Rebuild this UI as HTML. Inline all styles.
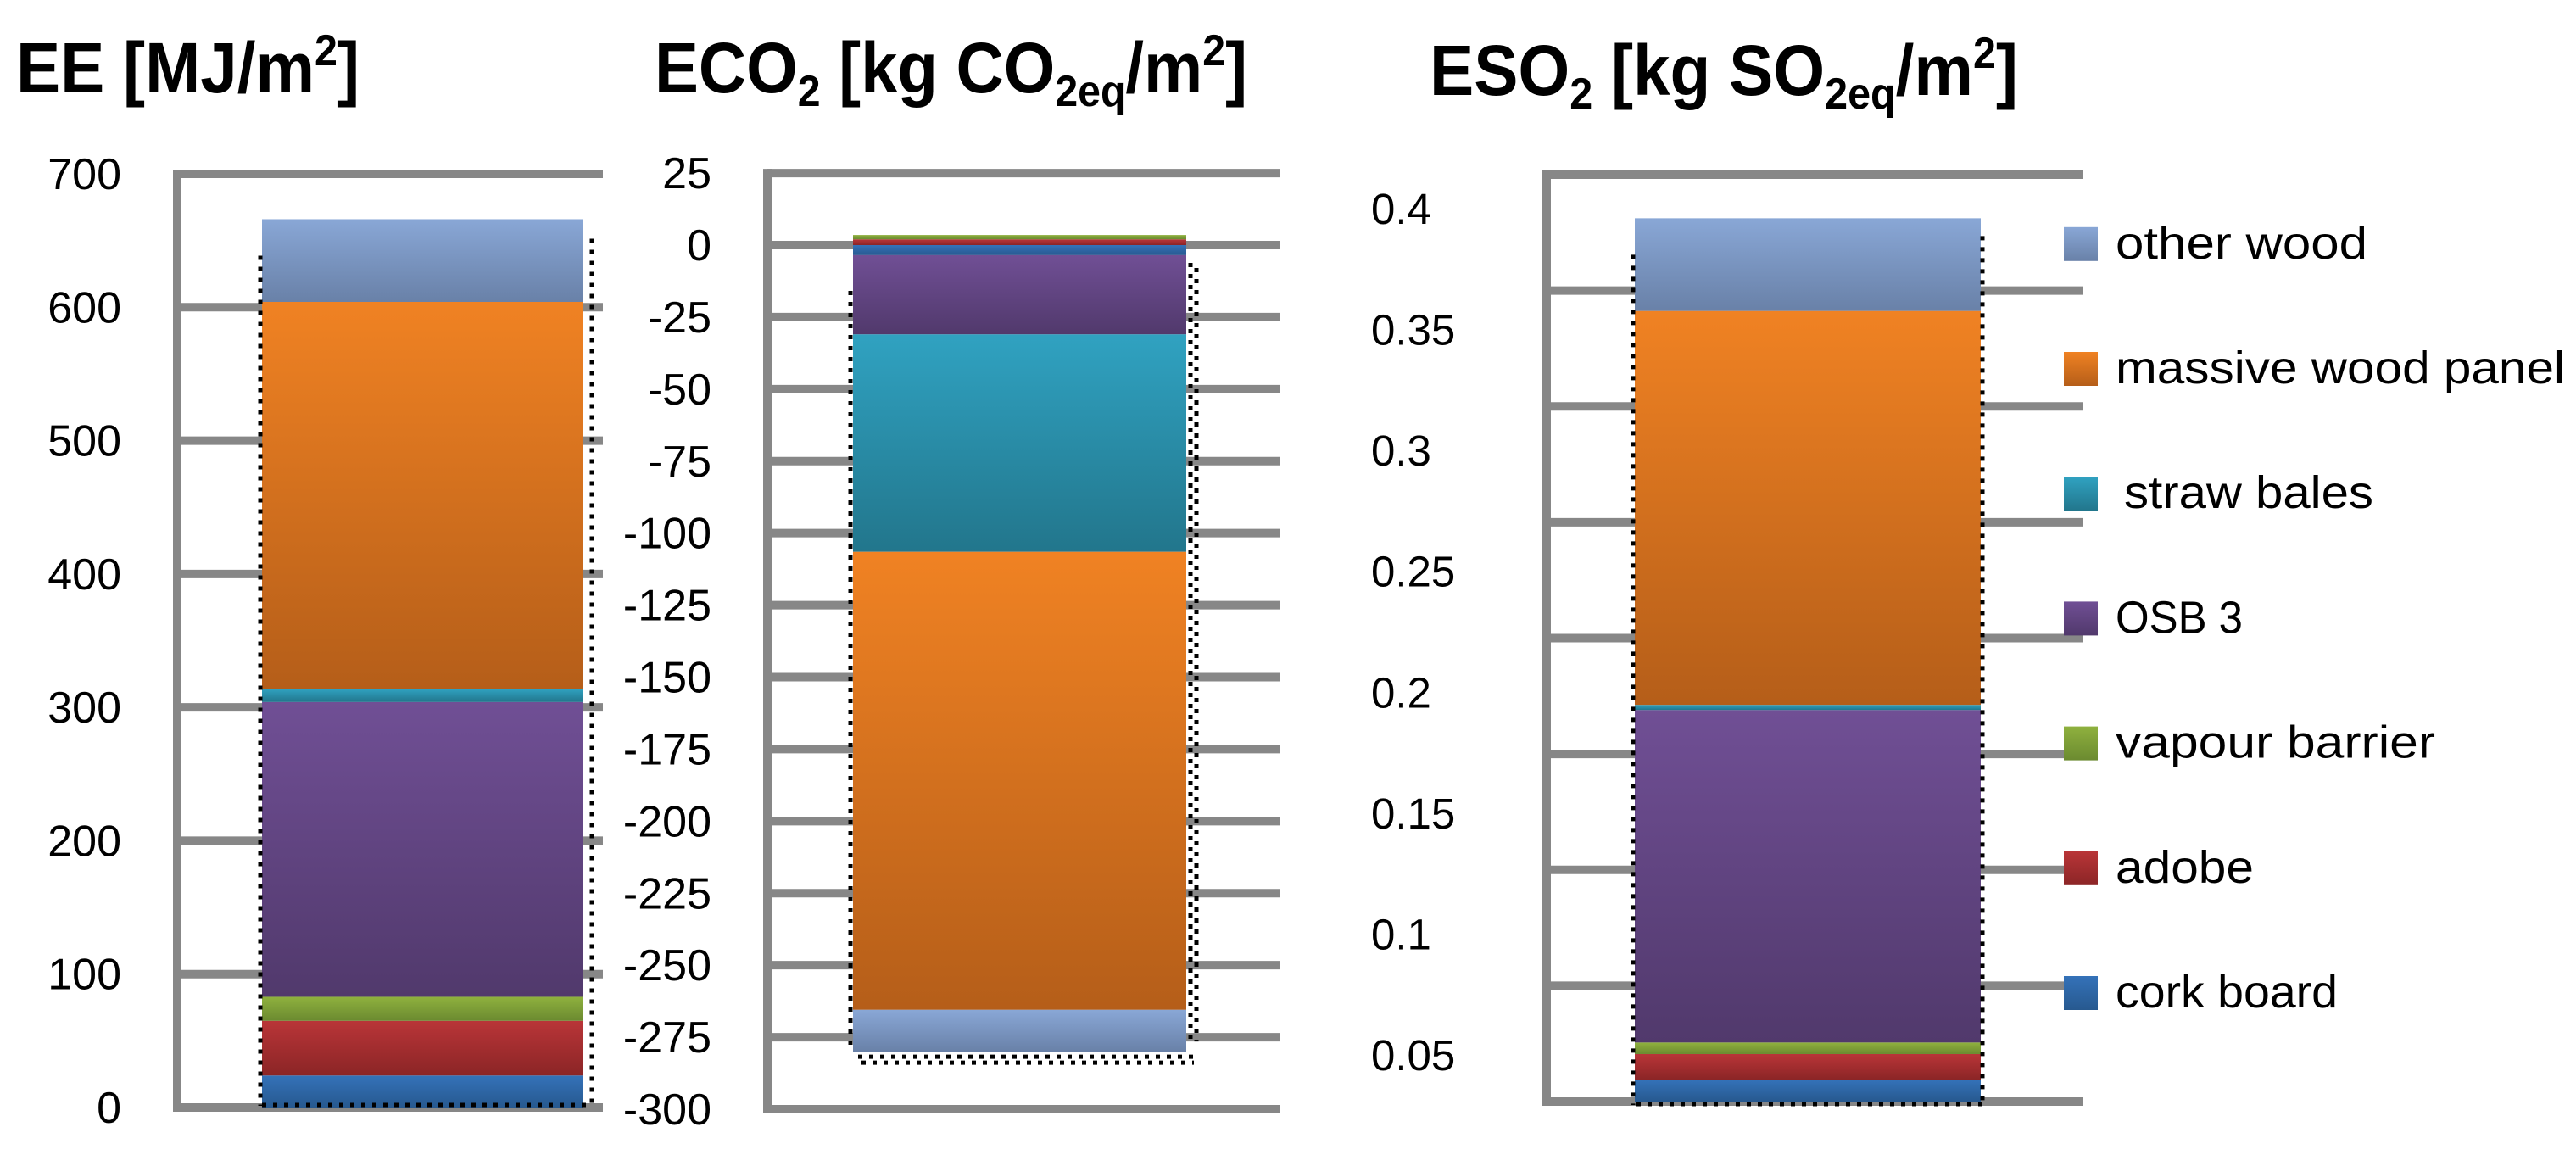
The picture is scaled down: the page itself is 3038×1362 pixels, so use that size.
<!DOCTYPE html>
<html><head><meta charset="utf-8"><style>
html,body{margin:0;padding:0;background:#fff;}
svg{display:block;font-family:"Liberation Sans",sans-serif;}
</style></head><body>
<svg id="c" width="3038" height="1362" viewBox="0 0 3038 1362" xmlns="http://www.w3.org/2000/svg">
<defs>
<linearGradient id="g-other" x1="0" y1="0" x2="0" y2="1"><stop offset="0" stop-color="#89a7d6"/><stop offset="1" stop-color="#6981a8"/></linearGradient>
<linearGradient id="g-massive" x1="0" y1="0" x2="0" y2="1"><stop offset="0" stop-color="#f08223"/><stop offset="1" stop-color="#b55e19"/></linearGradient>
<linearGradient id="g-straw" x1="0" y1="0" x2="0" y2="1"><stop offset="0" stop-color="#30a2c1"/><stop offset="1" stop-color="#22768c"/></linearGradient>
<linearGradient id="g-osb" x1="0" y1="0" x2="0" y2="1"><stop offset="0" stop-color="#704f95"/><stop offset="1" stop-color="#51396c"/></linearGradient>
<linearGradient id="g-vapour" x1="0" y1="0" x2="0" y2="1"><stop offset="0" stop-color="#8fb13e"/><stop offset="1" stop-color="#6b8a30"/></linearGradient>
<linearGradient id="g-adobe" x1="0" y1="0" x2="0" y2="1"><stop offset="0" stop-color="#b93538"/><stop offset="1" stop-color="#8b2526"/></linearGradient>
<linearGradient id="g-cork" x1="0" y1="0" x2="0" y2="1"><stop offset="0" stop-color="#3472b9"/><stop offset="1" stop-color="#27598f"/></linearGradient>
</defs>
<g id="titles" font-weight="bold" font-size="84" fill="#000">
<text x="19" y="109" textLength="405" lengthAdjust="spacingAndGlyphs">EE [MJ/m<tspan dy="-32" font-size="52">2</tspan><tspan dy="32">]</tspan></text>
<text x="772" y="109" textLength="699" lengthAdjust="spacingAndGlyphs">ECO<tspan dy="16" font-size="52">2</tspan><tspan dy="-16"> [kg CO</tspan><tspan dy="16" font-size="52">2eq</tspan><tspan dy="-16">/m</tspan><tspan dy="-32" font-size="52">2</tspan><tspan dy="32">]</tspan></text>
<text x="1686" y="112" textLength="694" lengthAdjust="spacingAndGlyphs">ESO<tspan dy="16" font-size="52">2</tspan><tspan dy="-16"> [kg SO</tspan><tspan dy="16" font-size="52">2eq</tspan><tspan dy="-16">/m</tspan><tspan dy="-32" font-size="52">2</tspan><tspan dy="32">]</tspan></text>
</g>
</svg>
<script>
// shared categories (bottom to top)
const categories = ["cork board","adobe","vapour barrier","OSB 3","straw bales","massive wood panel","other wood"];
const gradIds = ["g-cork","g-adobe","g-vapour","g-osb","g-straw","g-massive","g-other"];
// EE values [MJ/m2]
const eeValues = [24, 41, 18, 221, 10, 290, 62];
const eeTicks = [0,100,200,300,400,500,600,700];
// ECO2 values [kg CO2eq/m2]
const eco2Values = [-3.5, 2, 1.5, -27.5, -75.5, -159, -14.5];
const eco2Ticks = [25,0,-25,-50,-75,-100,-125,-150,-175,-200,-225,-250,-275,-300];
// ESO2 values [kg SO2eq/m2]
const eso2Values = [0.0095, 0.011, 0.005, 0.1435, 0.0022, 0.170, 0.040];
const eso2Grid = [0,0.05,0.1,0.15,0.2,0.25,0.3,0.35,0.4];
const eso2TickLabels = ["0.05","0.1","0.15","0.2","0.25","0.3","0.35","0.4"];

const NS="http://www.w3.org/2000/svg";
const svg=document.getElementById('c');
function mk(tag,attrs,parent){const e=document.createElementNS(NS,tag);for(const k in attrs)e.setAttribute(k,attrs[k]);(parent||svg).appendChild(e);return e;}
const GRID="#878787";

// axis functions
const yEE=v=>1306-(v-0)*(1101/700);
const yECO=v=>289-v*(1019/300);
const yESO=v=>1299-v*(1093/0.4);
const yESOlabel=v=>1244-(v-0.05)*(998/0.35);

function stackBars(vals,yf,x0,x1,name){
  let pos=0,neg=0;
  const g=mk('g',{});
  
  
  vals.forEach((v,i)=>{
    let a,b;
    if(v>=0){a=pos;b=pos+v;pos=b;}else{a=neg;b=neg+v;neg=b;}
    const yt=Math.min(yf(a),yf(b)),yb=Math.max(yf(a),yf(b));
    const r=mk('rect',{x:x0,y:yt,width:x1-x0,height:Math.max(0,yb-yt),fill:'url(#'+gradIds[i]+')'},g);
    
    
  });
  return {top:yf(pos),bottom:yf(neg)};
}
function dotted(x1,y1,x2,y2,name){
  const l=mk('line',{x1:x1,y1:y1,x2:x2,y2:y2,stroke:'#000','stroke-width':5,'stroke-dasharray':'5 8'});
  
  
}

// ---- EE panel ----
const ee=mk('g',{});


eeTicks.forEach(t=>{
  const y=yEE(t);
  const l=mk('line',{x1:209,y1:y,x2:711,y2:y,stroke:GRID,'stroke-width':10},ee);
  
  
  const tx=mk('text',{x:143,y:y+18,'text-anchor':'end','font-size':52},ee);
  tx.textContent=t;
  
  
});
const eeAx=mk('line',{x1:209,y1:yEE(700)-5,x2:209,y2:yEE(0)+5,stroke:GRID,'stroke-width':10},ee);


const eeS=stackBars(eeValues,yEE,309,688,'ee');
dotted(307,eeS.top+43,307,1304,'ee-range-left');
dotted(698,eeS.top+23,698,1304,'ee-range-right');
dotted(309,1303,698,1303,'ee-range-bottom');

// ---- ECO2 panel ----
eco2Ticks.forEach(t=>{
  const y=yECO(t);
  const l=mk('line',{x1:905,y1:y,x2:1509,y2:y,stroke:GRID,'stroke-width':10});
  
  
  const tx=mk('text',{x:839,y:y+18,'text-anchor':'end','font-size':52});
  tx.textContent=t;
  
  
});
const ecoAx=mk('line',{x1:905,y1:yECO(25)-5,x2:905,y2:yECO(-300)+5,stroke:GRID,'stroke-width':10});


const ecoS=stackBars(eco2Values,yECO,1006,1399,'eco2');
dotted(1003,343,1003,ecoS.bottom-4,'eco2-range-left');
dotted(1404,310,1404,ecoS.bottom-12,'eco2-range-right');
dotted(1411,316,1411,ecoS.bottom-12,'eco2-range-right-2');
dotted(1012,ecoS.bottom+6,1408,ecoS.bottom+6,'eco2-range-bottom');
dotted(1016,ecoS.bottom+13,1408,ecoS.bottom+13,'eco2-range-bottom-2');

// ---- ESO2 panel ----
eso2Grid.forEach(t=>{
  const y=yESO(t);
  const l=mk('line',{x1:1824,y1:y,x2:2456,y2:y,stroke:GRID,'stroke-width':10});
  
  
});
eso2TickLabels.forEach(s=>{
  const tx=mk('text',{x:1617,y:yESOlabel(parseFloat(s))+18,'font-size':51});
  tx.textContent=s;
  
  
});
const esoAx=mk('line',{x1:1824,y1:yESO(0.4)-5,x2:1824,y2:yESO(0)+5,stroke:GRID,'stroke-width':10});


const esoS=stackBars(eso2Values,yESO,1928,2336,'eso2');
dotted(1926,esoS.top+43,1926,1303,'eso2-range-left');
dotted(2338,esoS.top+21,2338,1303,'eso2-range-right');
dotted(1930,1302,2338,1302,'eso2-range-bottom');

// ---- legend ----
const legendLabels=["cork board","adobe","vapour barrier","OSB 3"," straw bales","massive wood panel","other wood"];
const legendWidths=[262,163,377,150,304,530,297];
const lg=mk('g',{});


legendLabels.forEach((s,i)=>{
  const cy=1171-i*147.2;
  const e=mk('g',{},lg);
  
  
  const r=mk('rect',{x:2434,y:cy-20,width:40,height:40,fill:'url(#'+gradIds[i]+')'},e);
  
  
  const lead=s.startsWith(' ')?10:0;
  const t=mk('text',{x:2495+lead,y:cy+17,'font-size':54,textLength:legendWidths[i]-lead,lengthAdjust:'spacingAndGlyphs'},e);
  t.textContent=s.trim();
  
  
});
</script>
</body></html>
